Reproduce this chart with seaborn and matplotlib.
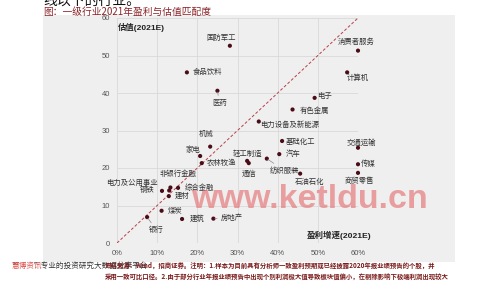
import matplotlib
matplotlib.use("Agg")
import matplotlib.pyplot as plt
import seaborn as sns
import pandas as pd
from matplotlib.patches import Rectangle

# ---------------- data ----------------
industries = ["国防军工", "食品饮料", "医药", "消费者服务", "计算机", "电子", "有色金属",
              "电力设备及新能源", "基础化工", "机械", "家电", "农林牧渔", "非银行金融",
              "电力及公用事业", "钢铁", "综合金融", "建材", "煤炭", "建筑", "房地产", "银行",
              "轻工制造", "通信", "纺织服装", "汽车", "石油石化", "交通运输", "传媒", "商贸零售"]
growth = [28.1, 17.4, 25.0, 60.0, 57.3, 49.2, 43.7,
          35.3, 41.1, 23.2, 20.7, 21.1, 13.3,
          13.0, 11.2, 15.2, 12.9, 11.1, 16.2, 24.0, 7.5,
          32.4, 32.8, 37.3, 40.4, 45.6, 60.0, 60.0, 60.0]
valuation = [52.6, 45.5, 40.6, 51.3, 45.5, 38.7, 35.6,
             32.4, 27.2, 25.7, 23.2, 21.3, 14.8,
             14.0, 13.9, 14.7, 12.5, 8.6, 6.4, 6.5, 6.9,
             21.9, 21.3, 22.5, 23.7, 18.5, 25.4, 21.0, 18.7]
x_ticks = [0, 10, 20, 30, 40, 50, 60]
x_tick_labels = ["0%", "10%", "20%", "30%", "40%", "50%", "60%"]
y_ticks = [0, 10, 20, 30, 40, 50, 60]
y_tick_labels = ["0", "10", "20", "30", "40", "50", "60"]

# label placement (pixel offsets on screen: dx right, dy down), alignment, leader line
label_layout = {
    "国防军工": (-9, -8, "center", False),
    "食品饮料": (6, 0, "left", False),
    "医药": (2, 12, "center", True),
    "消费者服务": (-2, -8.5, "center", False),
    "计算机": (0, 6, "left", False),
    "电子": (2, -2, "left", False),
    "有色金属": (7, 1, "left", False),
    "电力设备及新能源": (1, 3, "left", False),
    "基础化工": (4, 1, "left", False),
    "机械": (-4, -12.5, "center", False),
    "家电": (0, -6, "right", False),
    "农林牧渔": (5, 0, "left", False),
    "非银行金融": (-11, -14, "left", False),
    "电力及公用事业": (-12, -8, "right", False),
    "钢铁": (-7, -1, "right", False),
    "综合金融": (7, 0, "left", False),
    "建材": (6, 0, "left", False),
    "煤炭": (6, 0, "left", False),
    "建筑": (8, 0, "left", False),
    "房地产": (7, -1, "left", True),
    "银行": (2, 13, "left", True),
    "轻工制造": (0, -7, "center", False),
    "通信": (0, 11, "center", False),
    "纺织服装": (3, 12, "left", True),
    "汽车": (6, 0, "left", False),
    "石油石化": (-5, 8, "left", False),
    "交通运输": (3, -5, "center", False),
    "传媒": (3, 0, "left", False),
    "商贸零售": (1, 8, "center", False),
}

df = pd.DataFrame({"行业": industries, "盈利增速": growth, "估值": valuation})

# ---------------- style ----------------
sns.set_theme(style="white")
plt.rcParams["font.family"] = ["Liberation Sans", "Noto Sans CJK SC", "DejaVu Sans"]
CJK = ["Noto Sans CJK SC", "DejaVu Sans"]

W, H = 498, 282
fig = plt.figure(figsize=(W / 100, H / 100), dpi=100)
fig.patch.set_facecolor("white")

def fx(px):
    return px / W

def fy(py):
    return 1 - py / H

# grey panel of the embedded chart
fig.patches.append(Rectangle((fx(43), fy(262)), fx(455) - fx(43), fy(15) - fy(262),
                             transform=fig.transFigure, facecolor="#efefef",
                             edgecolor="none", zorder=-10))

ax = fig.add_axes([fx(117), fy(243), fx(358) - fx(117), fy(18) - fy(243)])
ax.set_facecolor("none")
ax.set_zorder(2)

# diagonal y = x reference
ax.plot([0, 60], [0, 60], linestyle=(0, (3, 2)), color="#b5404c", lw=0.7, zorder=2)

sns.scatterplot(data=df, x="盈利增速", y="估值", ax=ax, color="#4a0c16",
                s=9, edgecolor="none", zorder=4, clip_on=False, legend=False)

for name, gx, vy in zip(industries, growth, valuation):
    dx, dy, ha, leader = label_layout[name]
    kw = {}
    if leader:
        kw["arrowprops"] = dict(arrowstyle="-", color="#8c8c8c", lw=0.5,
                                shrinkA=0, shrinkB=1)
    ax.annotate(name, xy=(gx, vy), xytext=(dx, -dy), textcoords="offset pixels",
                ha=ha, va="center", fontsize=5.3, color="#333333",
                family=CJK, zorder=5, **kw)

ax.set_xlim(0, 60)
ax.set_ylim(0, 60)
ax.set_xticks(x_ticks)
ax.set_xticklabels(x_tick_labels)
ax.set_yticks(y_ticks)
ax.set_yticklabels(y_tick_labels)
ax.tick_params(axis="both", length=0, labelsize=5.5, labelcolor="#555555", pad=5)
ax.grid(True, color="#d9d9d9", lw=0.6)
ax.set_axisbelow(True)
for s in ax.spines.values():
    s.set_visible(False)
ax.set_xlabel("")
ax.set_ylabel("")

# axis captions inside the plot
ax.text(0.3, 57.6, "估值(2021E)", fontsize=6, fontweight="bold", color="#222222",
        ha="left", va="center")
ax.text(63.4, 2.1, "盈利增速(2021E)", fontsize=6.1, fontweight="bold", color="#222222",
        ha="right", va="center")

# page texts around the chart
fig.text(fx(43), fy(1), "线以下的行业。", fontsize=10, color="#111111", family=CJK,
         ha="left", va="center")
fig.text(fx(43), fy(12), "图：一级行业2021年盈利与估值匹配度", fontsize=7,
         color="#8b2328", family=CJK, ha="left", va="center")

# watermark
fig.text(fx(309.5), fy(208), "www.ketldu.cn", fontsize=24.5, fontweight="bold",
         family=["Liberation Sans"], color="#e57373", alpha=0.65,
         ha="center", va="baseline", zorder=10)

# footer
fig.text(fx(8), fy(266), "“", fontsize=5.5, color="#333333", family=CJK, va="center")
fig.text(fx(11), fy(266), "慧博资讯", fontsize=5.5, color="#d9534f", family=CJK, va="center")
fig.text(fx(34), fy(266), "”专业的投资研究大数据分享平台", fontsize=5.5, color="#333333",
         family=CJK, va="center")
fig.text(fx(105), fy(265), "资料来源：Wind，招商证券。注明：1.样本为目前具有分析师一致盈利预期或已经披露2020年报业绩预告的个股，并",
         fontsize=4.6, color="#7a1a1a", family=CJK, va="center", fontweight="bold")
fig.text(fx(105), fy(277), "采用一致可比口径。2.由于部分行业年报业绩预告中出现个别利润极大值导致板块值偏小，在剔除影响下极端利润出现较大",
         fontsize=4.6, color="#7a1a1a", family=CJK, va="center", fontweight="bold")

fig.savefig("out.png", dpi=100)
